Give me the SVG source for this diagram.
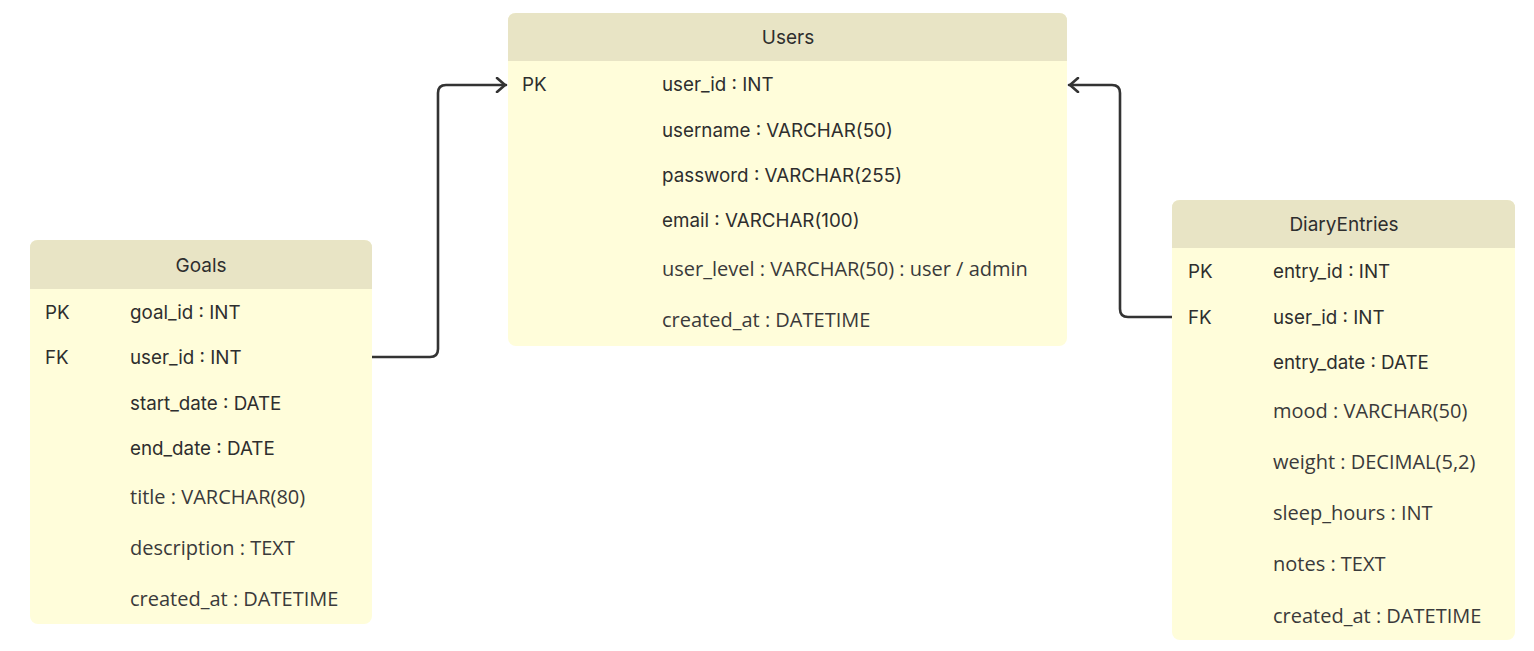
<svg xmlns="http://www.w3.org/2000/svg" width="1534" height="651" viewBox="0 0 1534 651">
<style>
.body{fill:#FFFDDA}
.head{fill:#E8E4C5}
.t{font-family:Inter,"Liberation Sans",sans-serif;font-size:18.8px;fill:#2e2e2e}
.o{font-family:"Open Sans","Liberation Sans",sans-serif;font-size:20px;fill:#3a3a3a}
.h{font-family:Inter,"Liberation Sans",sans-serif;font-size:19px;fill:#2e2e2e;text-anchor:middle}
.c{fill:none;stroke:#333;stroke-width:2.6;stroke-linejoin:round;stroke-linecap:round}
</style>
<defs>
<marker id="arr" viewBox="0 0 12 16" refX="11" refY="8" markerWidth="12" markerHeight="16" markerUnits="userSpaceOnUse" orient="auto">
<path d="M2,1 L10,8 L2,15" fill="none" stroke="#333" stroke-width="2.6" stroke-linecap="round" stroke-linejoin="round"/>
</marker>
</defs>
<rect width="1534" height="651" fill="#fff"/>
<g id="connectors">
<path class="c" d="M372,357 H430 Q438,357 438,349 V93 Q438,85 446,85 H506" marker-end="url(#arr)"/>
<path class="c" d="M1172,317 H1128 Q1120,317 1120,309 V93 Q1120,85 1112,85 H1069" marker-end="url(#arr)"/>
</g>
<g id="users">
<rect class="body" x="508" y="13" width="559" height="333" rx="8"/>
<path class="head" d="M516,13 H1059 Q1067,13 1067,21 V61 H508 V21 Q508,13 516,13 Z"/>
<text class="h" x="788" y="44">Users</text>
<text class="t" x="522" y="91">PK</text>
<text class="t" x="662" y="91">user_id : INT</text>
<text class="t" x="662" y="137">username : VARCHAR(50)</text>
<text class="t" x="662" y="182">password : VARCHAR(255)</text>
<text class="t" x="662" y="227">email : VARCHAR(100)</text>
<text class="o" x="662" y="276">user_level : VARCHAR(50) : user / admin</text>
<text class="o" x="662" y="327">created_at : DATETIME</text>
</g>
<g id="goals">
<rect class="body" x="30" y="240" width="342" height="384" rx="8"/>
<path class="head" d="M38,240 H364 Q372,240 372,248 V289 H30 V248 Q30,240 38,240 Z"/>
<text class="h" x="201" y="272">Goals</text>
<text class="t" x="45" y="319">PK</text>
<text class="t" x="130" y="319">goal_id : INT</text>
<text class="t" x="45" y="364">FK</text>
<text class="t" x="130" y="364">user_id : INT</text>
<text class="t" x="130" y="410">start_date : DATE</text>
<text class="t" x="130" y="455">end_date : DATE</text>
<text class="o" x="130" y="504">title : VARCHAR(80)</text>
<text class="o" x="130" y="555">description : TEXT</text>
<text class="o" x="130" y="606">created_at : DATETIME</text>
</g>
<g id="diaryentries">
<rect class="body" x="1172" y="200" width="343" height="440" rx="8"/>
<path class="head" d="M1180,200 H1507 Q1515,200 1515,208 V248 H1172 V208 Q1172,200 1180,200 Z"/>
<text class="h" x="1344" y="231">DiaryEntries</text>
<text class="t" x="1188" y="278">PK</text>
<text class="t" x="1273" y="278">entry_id : INT</text>
<text class="t" x="1188" y="324">FK</text>
<text class="t" x="1273" y="324">user_id : INT</text>
<text class="t" x="1273" y="369">entry_date : DATE</text>
<text class="o" x="1273" y="418">mood : VARCHAR(50)</text>
<text class="o" x="1273" y="469">weight : DECIMAL(5,2)</text>
<text class="o" x="1273" y="520">sleep_hours : INT</text>
<text class="o" x="1273" y="571">notes : TEXT</text>
<text class="o" x="1273" y="623">created_at : DATETIME</text>
</g>
</svg>
